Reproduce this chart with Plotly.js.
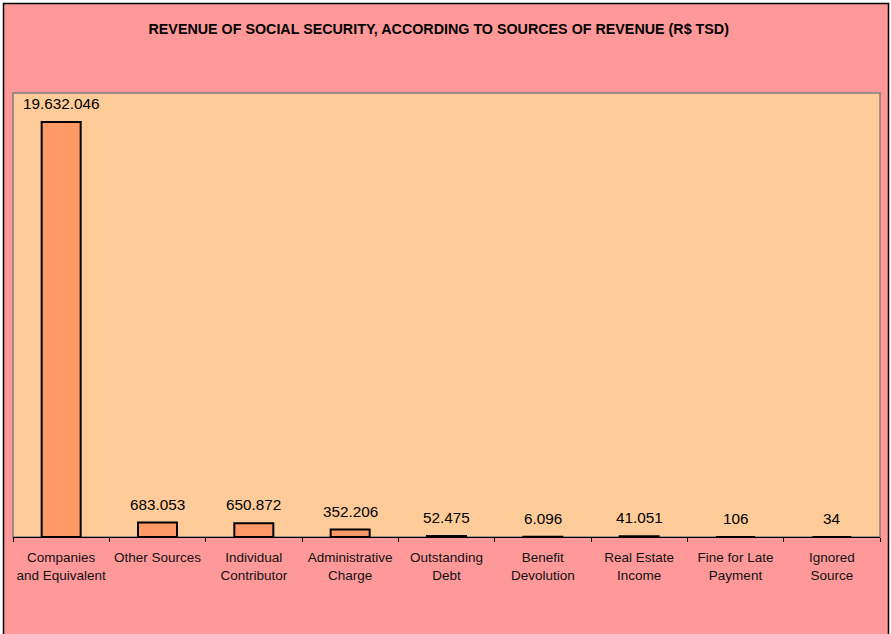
<!DOCTYPE html>
<html>
<head>
<meta charset="utf-8">
<script src="https://cdn.plot.ly/plotly-3.0.1.min.js"></script>
<style>html,body{margin:0;padding:0;background:#fff;}#chart{width:891px;height:634px;}</style>
</head>
<body>
<div id="chart"></div>
<script>
const categories = ["Companies<br>and Equivalent", "Other Sources", "Individual<br>Contributor", "Administrative<br>Charge", "Outstanding<br>Debt", "Benefit<br>Devolution", "Real Estate<br>Income", "Fine for Late<br>Payment", "Ignored<br>Source"];
const values = [19632046, 683053, 650872, 352206, 52475, 6096, 41051, 106, 34];
const valueLabels = ["19.632.046", "683.053", "650.872", "352.206", "52.475", "6.096", "41.051", "106", "34"];

const W = 891, H = 634;
const m = {l: 13, r: 11, t: 93, b: 97};
const pw = W - m.l - m.r, ph = H - m.t - m.b;
const px = v => (v - m.l) / pw;
const py = v => (H - m.b - v) / ph;

const trace = {
  type: 'bar',
  x: categories,
  y: values,
  marker: {color: '#FF9966', line: {color: '#000000', width: 2}},
  hoverinfo: 'none'
};

const annotations = categories.map((c, i) => ({
  x: c, y: values[i], xref: 'x', yref: 'y',
  text: valueLabels[i], showarrow: false,
  yanchor: 'middle', yshift: 18.5,
  font: {family: 'Liberation Sans, Arial, sans-serif', size: 15.3, color: '#000'}
}));

const layout = {
  width: W, height: H,
  margin: m,
  paper_bgcolor: '#ffffff',
  plot_bgcolor: 'rgba(0,0,0,0)',
  showlegend: false,
  bargap: 0.595,
  title: {
    text: '<b>REVENUE OF SOCIAL SECURITY, ACCORDING TO SOURCES OF REVENUE (R$ TSD)</b>',
    font: {family: 'Liberation Sans, Arial, sans-serif', size: 14.3, color: '#000'},
    x: 437.5 / W, xanchor: 'center', xref: 'paper',
    y: 1 - 29 / H, yanchor: 'middle', yref: 'container'
  },
  xaxis: {
    type: 'category',
    showline: true, linecolor: '#000', linewidth: 1,
    ticks: 'outside', tickson: 'boundaries', ticklen: 4, tickcolor: '#000', tickwidth: 1,
    showgrid: false, zeroline: false,
    tickangle: 0,
    tickfont: {family: 'Liberation Sans, Arial, sans-serif', size: 13.5, color: '#111'},
    ticklabelstandoff: 8,
    fixedrange: true
  },
  yaxis: {visible: false, range: [0, 21000000], showgrid: false, zeroline: false, fixedrange: true},
  shapes: [
    {type: 'rect', xref: 'paper', yref: 'paper', layer: 'below',
     x0: px(3.5), x1: px(888.5), y0: py(640), y1: py(3.5),
     fillcolor: '#FF9999', line: {color: '#000', width: 1.5}},
    {type: 'rect', xref: 'paper', yref: 'paper', layer: 'below',
     x0: 0, x1: 1, y0: 0, y1: 1,
     fillcolor: '#FFCC99', line: {color: '#808080', width: 1.5}}
  ],
  annotations: annotations
};

Plotly.newPlot('chart', [trace], layout, {displayModeBar: false, staticPlot: true});
</script>
</body>
</html>
